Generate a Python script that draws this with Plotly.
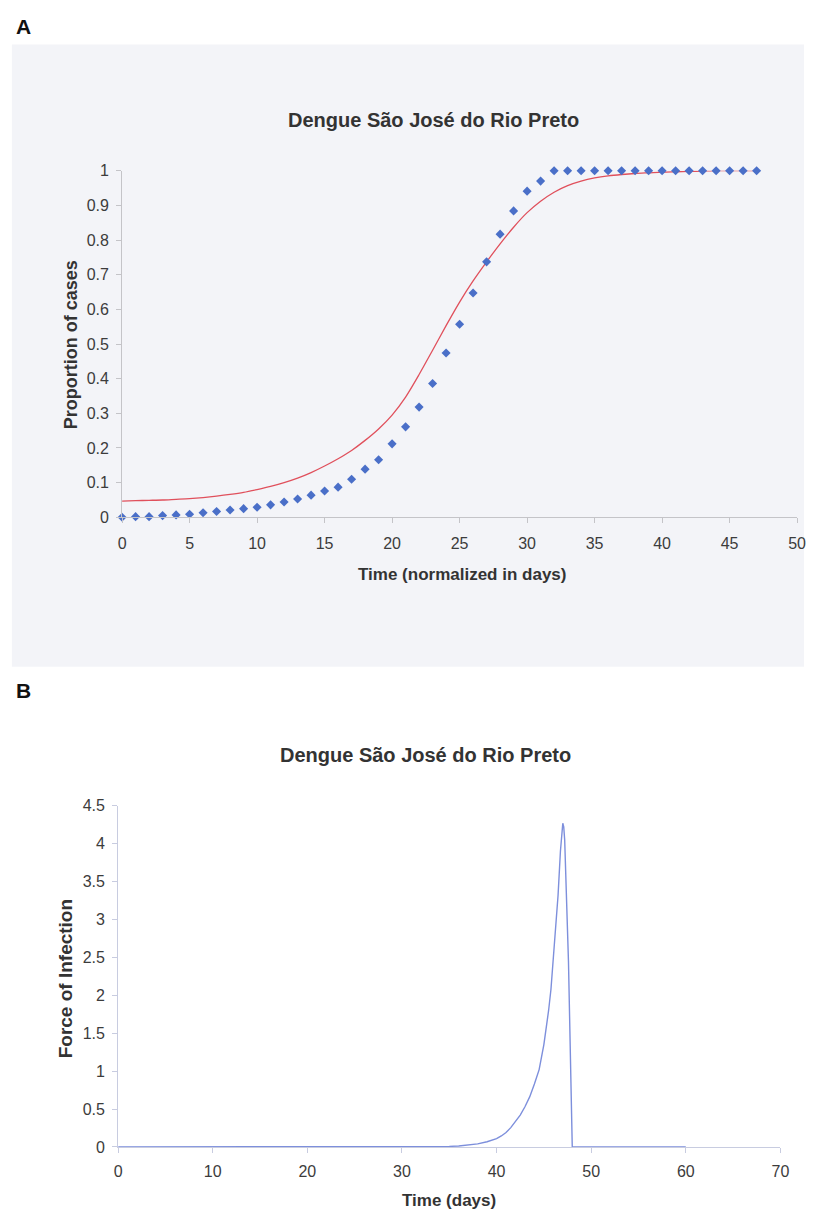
import plotly.graph_objects as go

W, H = 813, 1223

# ---------- Panel A data ----------
days_a = list(range(0, 48))
observed_a = [0.0, 0.002, 0.002, 0.005, 0.007, 0.009, 0.013, 0.017, 0.021, 0.025,
              0.029, 0.036, 0.044, 0.053, 0.064, 0.076, 0.087, 0.11, 0.139, 0.166,
              0.212, 0.261, 0.318, 0.386, 0.474, 0.557, 0.647, 0.737, 0.817, 0.884,
              0.941, 0.970] + [1.0] * 16
fitted_a = [0.047, 0.048, 0.049, 0.050, 0.052, 0.054, 0.057, 0.061, 0.066, 0.072,
            0.080, 0.089, 0.100, 0.113, 0.129, 0.148, 0.169, 0.193, 0.222, 0.255,
            0.295, 0.347, 0.412, 0.482, 0.553, 0.621, 0.682, 0.737, 0.789, 0.837,
            0.879, 0.912, 0.938, 0.957, 0.970, 0.979, 0.985, 0.989, 0.992, 0.994,
            0.996, 0.997, 0.998, 0.999, 1.0, 1.0, 1.0, 1.0]

# ---------- Panel B data ----------
days_b = [0, 10, 20, 30, 32, 34, 35, 36, 37, 38, 39, 40, 40.5, 41, 41.5, 42, 42.5,
          43, 43.5, 44, 44.5, 45, 45.25, 45.5, 45.75, 46, 46.25, 46.5, 46.75, 46.9,
          47.0, 47.1, 47.2, 47.6, 48.0, 50, 55, 60]
force_b = [0, 0, 0, 0.001, 0.002, 0.004, 0.007, 0.013, 0.022, 0.04, 0.068, 0.11, 0.145,
           0.19, 0.255, 0.33, 0.42, 0.53, 0.66, 0.83, 1.02, 1.35, 1.55, 1.8, 2.08, 2.5,
           2.9, 3.32, 3.9, 4.18, 4.27, 4.22, 4.05, 2.45, 0.0, 0.0, 0.0, 0.0]

title_text = "Dengue São José do Rio Preto"


def py(p):
    return min(1.0, max(0.0, 1 - p / H))


def px_x(p):
    return min(1.0, max(0.0, p / W))


FONT = "Liberation Sans, Arial, sans-serif"
NARROW = "Liberation Sans Narrow, Arial Narrow, Liberation Sans, sans-serif"

fig = go.Figure()

fig.add_trace(go.Scatter(x=days_a, y=fitted_a, mode="lines",
                         line=dict(color="#e0505c", width=1.3, shape="spline", smoothing=0.8),
                         xaxis="x", yaxis="y", cliponaxis=False, showlegend=False))
fig.add_trace(go.Scatter(x=days_a, y=observed_a, mode="markers",
                         marker=dict(symbol="diamond", size=7, color="#4a6fc8"),
                         xaxis="x", yaxis="y", cliponaxis=False, showlegend=False))
fig.add_trace(go.Scatter(x=days_b, y=force_b, mode="lines",
                         line=dict(color="#7d8fdc", width=1.4),
                         xaxis="x2", yaxis="y2", cliponaxis=False, showlegend=False))

axis_common = dict(showgrid=False, zeroline=False, showline=True, ticks="outside",
                   ticklen=5, tickfont=dict(family=FONT, size=16, color="#3c3c3c"))

fig.update_layout(
    width=W, height=H, margin=dict(l=0, r=0, t=0, b=0),
    paper_bgcolor="white", plot_bgcolor="rgba(0,0,0,0)",
    xaxis=dict(domain=[px_x(120), px_x(806)], range=[0, 50], tickvals=list(range(0, 51, 5)),
               anchor="y", linecolor="#c4c4c8", tickcolor="#c4c4c8", ticklabelstandoff=6,
               **axis_common),
    yaxis=dict(domain=[py(516.5), py(165)], range=[0, 1], tickvals=[i / 10 for i in range(11)],
               ticktext=["0", "0.1", "0.2", "0.3", "0.4", "0.5", "0.6", "0.7", "0.8", "0.9", "1"],
               anchor="x", linecolor="#c4c4c8", tickcolor="#c4c4c8", ticklabelstandoff=4,
               **axis_common),
    xaxis2=dict(domain=[px_x(116), px_x(789)], range=[0, 70], tickvals=list(range(0, 71, 10)),
                anchor="y2", linecolor="#c8cce0", tickcolor="#c8cce0", ticklabelstandoff=5,
                **axis_common),
    yaxis2=dict(domain=[py(1155), py(809)], range=[0, 4.5], tickvals=[i / 2 for i in range(10)],
                ticktext=["0", "0.5", "1", "1.5", "2", "2.5", "3", "3.5", "4", "4.5"],
                anchor="x2", linecolor="#c8cce0", tickcolor="#c8cce0", ticklabelstandoff=4,
                **axis_common),
    shapes=[dict(type="rect", xref="paper", yref="paper", x0=px_x(8), x1=1.0, y0=py(668), y1=py(37),
                 fillcolor="#f3f4f8", line=dict(width=0), layer="below")],
)

ann = [
    dict(text="<b>A</b>", x=px_x(10), y=py(19), xanchor="left", yanchor="middle",
         font=dict(family=NARROW, size=21, color="#111")),
    dict(text="<b>B</b>", x=px_x(10), y=py(692), xanchor="left", yanchor="middle",
         font=dict(family=NARROW, size=21, color="#111")),
    dict(text="<b>" + title_text + "</b>", x=px_x(436), y=py(114), xanchor="center", yanchor="middle",
         font=dict(family=FONT, size=20, color="#333")),
    dict(text="<b>" + title_text + "</b>", x=px_x(428), y=py(758), xanchor="center", yanchor="middle",
         font=dict(family=FONT, size=20, color="#333")),
    dict(text="<b>Proportion of cases</b>", x=px_x(68), y=py(341), textangle=-90,
         xanchor="center", yanchor="middle", font=dict(family=FONT, size=18, color="#333")),
    dict(text="<b>Time (normalized in days)</b>", x=px_x(465), y=py(574),
         xanchor="center", yanchor="middle", font=dict(family=FONT, size=17, color="#333")),
    dict(text="<b>Force of Infection</b>", x=px_x(62), y=py(985), textangle=-90,
         xanchor="center", yanchor="middle", font=dict(family=FONT, size=19, color="#333")),
    dict(text="<b>Time (days)</b>", x=px_x(452), y=py(1209), xanchor="center", yanchor="middle",
         font=dict(family=FONT, size=17, color="#333")),
]
for a in ann:
    a.update(xref="paper", yref="paper", showarrow=False)
fig.update_layout(annotations=ann)

fig.write_html("out.html")
